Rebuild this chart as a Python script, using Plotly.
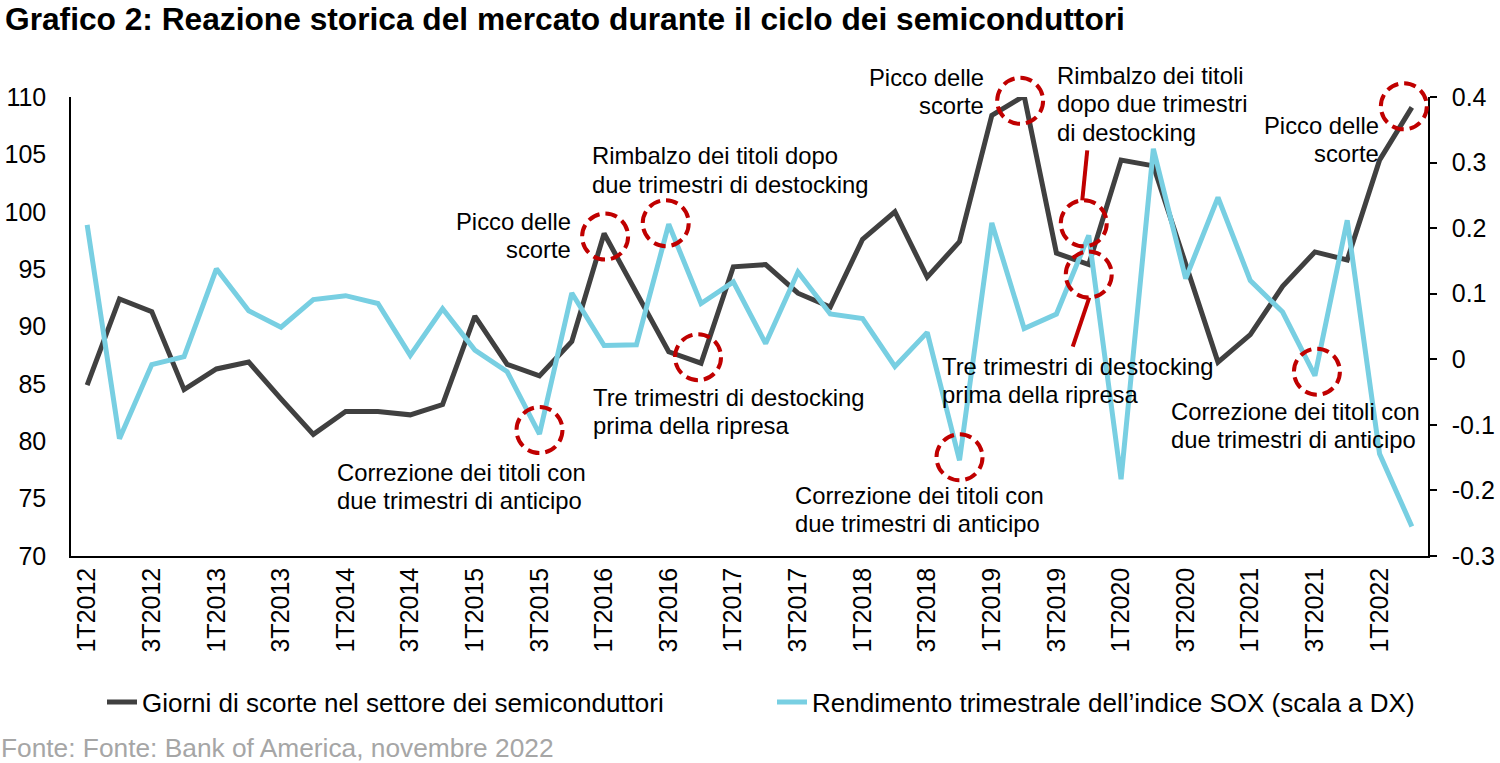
import plotly.graph_objects as go

# ---------------- data ----------------
years = list(range(2012, 2023))
quarters = [f"{q}T{y}" for y in years for q in (1, 2, 3, 4)][:42]   # 1T2012 .. 2T2022

inventory_days = [84.9, 92.4, 91.3, 84.5, 86.3, 86.9, 83.7, 80.6, 82.6, 82.6,
                  82.3, 83.2, 90.9, 86.7, 85.7, 88.7, 98.1, 93.0, 87.8, 86.8,
                  95.2, 95.4, 92.9, 91.7, 97.6, 100.0, 94.3, 97.4, 108.4, 110.1,
                  96.4, 95.4, 104.5, 104.0, 95.3, 86.9, 89.3, 93.5, 96.5, 95.8,
                  104.5, 109.1]

sox_return = [0.205, -0.121, -0.008, 0.004, 0.138, 0.074, 0.049, 0.091, 0.097, 0.085,
              0.006, 0.077, 0.014, -0.019, -0.114, 0.101, 0.021, 0.022, 0.206, 0.085,
              0.118, 0.024, 0.133, 0.069, 0.062, -0.011, 0.041, -0.154, 0.208, 0.047,
              0.069, 0.189, -0.183, 0.321, 0.123, 0.247, 0.120, 0.072, -0.025, 0.212,
              -0.144, -0.255]

x_tick_labels = quarters[::2]
left_range = [70, 110]
left_ticks = [70, 75, 80, 85, 90, 95, 100, 105, 110]
right_range = [-0.3, 0.4]
right_ticks = [-0.3, -0.2, -0.1, 0, 0.1, 0.2, 0.3, 0.4]
right_tick_text = ["-0.3", "-0.2", "-0.1", "0", "0.1", "0.2", "0.3", "0.4"]

series_names = ["Giorni di scorte nel settore dei semiconduttori",
                "Rendimento trimestrale dell\u2019indice SOX (scala a DX)"]

title_text = "Grafico 2: Reazione storica del mercato durante il ciclo dei semiconduttori"
source_text = "Fonte: Fonte: Bank of America, novembre 2022"

# highlighted points: (series, quarter index, pixel dx, pixel dy)
highlights = [("sox", 14, 0, 4), ("inv", 16, 1, -3), ("sox", 18, -3, 1),
              ("inv", 19, -3, 6), ("sox", 27, 0, 3), ("inv", 29, -4, -5),
              ("sox", 31, -5, 12), ("inv", 31, 0, -10), ("sox", 38, 2, 4),
              ("inv", 41, -8, 1)]

# connector lines: (series, quarter index, x0, y0, x1, y1) pixel offsets
connectors = [("sox", 31, -1.5, 85, -6.5, 35), ("inv", 31, 0.5, -33, -16, -82)]

notes = [
    (["Picco delle", "scorte"], 572, 221, "right"),
    (["Rimbalzo dei titoli dopo", "due trimestri di destocking"], 591, 156, "left"),
    (["Tre trimestri di destocking", "prima della ripresa"], 592, 397, "left"),
    (["Correzione dei titoli con", "due trimestri di anticipo"], 336, 472, "left"),
    (["Picco delle", "scorte"], 985, 77, "right"),
    (["Correzione dei titoli con", "due trimestri di anticipo"], 794, 495, "left"),
    (["Tre trimestri di destocking", "prima della ripresa"], 941, 366, "left"),
    (["Rimbalzo dei titoli", "dopo due trimestri", "di destocking"], 1056, 75, "left"),
    (["Picco delle", "scorte"], 1380, 125, "right"),
    (["Correzione dei titoli con", "due trimestri di anticipo"], 1170, 411, "left"),
]

# ---------------- styling ----------------
FONT = "Liberation Sans, Arial, sans-serif"
DARK = "#404040"
CYAN = "#78CFE2"
RED = "#C00000"
W, H = 1500, 763
L, R, T, B = 71, 72, 97, 207
PW, PH = W - L - R, H - T - B
N = len(quarters)

def px_x(p):
    return (p - L) / PW

def px_y(p):
    return (T + PH - p) / PH

def paper_point(series, i):
    if series == "inv":
        v, rng = inventory_days[i], left_range
    else:
        v, rng = sox_return[i], right_range
    return (i + 0.5) / N, (v - rng[0]) / (rng[1] - rng[0])

fig = go.Figure()
fig.add_trace(go.Scatter(x=quarters, y=inventory_days, mode="lines",
                         name=series_names[0], legend="legend",
                         line=dict(color=DARK, width=5)))
fig.add_trace(go.Scatter(x=quarters, y=sox_return, mode="lines",
                         name=series_names[1], yaxis="y2", legend="legend2",
                         line=dict(color=CYAN, width=5)))

shapes = []
for series, i, dx, dy in highlights:
    ax, ay = paper_point(series, i)
    r = 23
    shapes.append(dict(type="circle", xref="paper", yref="paper",
                       xsizemode="pixel", ysizemode="pixel",
                       xanchor=ax, yanchor=ay,
                       x0=dx - r, x1=dx + r, y0=dy - r, y1=dy + r,
                       line=dict(color=RED, width=4, dash="12px,6px")))

for series, i, x0, y0, x1, y1 in connectors:
    ax, ay = paper_point(series, i)
    shapes.append(dict(type="line", xref="paper", yref="paper",
                       xsizemode="pixel", ysizemode="pixel",
                       xanchor=ax, yanchor=ay, x0=x0, y0=y0, x1=x1, y1=y1,
                       line=dict(color=RED, width=4)))

annotations = []
LINE_STEP = 28.5
for lines, x, y0, align in notes:
    for k, txt in enumerate(lines):
        annotations.append(dict(text=txt, xref="paper", yref="paper",
                                x=px_x(x), y=px_y(y0 + k * LINE_STEP),
                                xanchor=align, yanchor="middle",
                                showarrow=False, borderpad=0,
                                font=dict(family=FONT, size=23.8, color="black")))

annotations.append(dict(text="<b>" + title_text + "</b>",
                        xref="paper", yref="paper", x=px_x(4), y=px_y(19),
                        xanchor="left", yanchor="middle", showarrow=False,
                        borderpad=0,
                        font=dict(family=FONT, size=31.7, color="black")))

annotations.append(dict(text=source_text,
                        xref="paper", yref="paper", x=px_x(0), y=px_y(748),
                        xanchor="left", yanchor="middle", showarrow=False,
                        borderpad=0,
                        font=dict(family=FONT, size=26.3, color="#A6A6A6")))

legend_common = dict(orientation="h", xanchor="left", yanchor="middle",
                     y=px_y(702), font=dict(family=FONT, size=26, color="black"),
                     bgcolor="rgba(0,0,0,0)", borderwidth=0)

fig.update_layout(
    width=W, height=H, autosize=False,
    margin=dict(l=L, r=R, t=T, b=B, autoexpand=False),
    paper_bgcolor="white", plot_bgcolor="white",
    font=dict(family=FONT, color="black"),
    showlegend=True,
    legend=dict(x=px_x(102), **legend_common),
    legend2=dict(x=px_x(772), **legend_common),
    xaxis=dict(type="category", categoryorder="array", categoryarray=quarters,
               range=[-0.5, N - 0.5],
               tickmode="array", tickvals=x_tick_labels, ticktext=x_tick_labels,
               tickangle=-90, tickfont=dict(family=FONT, size=25, color="black"),
               showline=True, linecolor="black", linewidth=1.5, automargin=False,
               ticks="", showgrid=False, zeroline=False, ticklabelstandoff=0),
    yaxis=dict(range=left_range, tickmode="array", tickvals=left_ticks,
               tickfont=dict(family=FONT, size=25, color="black"),
               showline=True, linecolor="black", linewidth=1.5, automargin=False,
               ticks="", showgrid=False, zeroline=False, ticklabelstandoff=18),
    yaxis2=dict(range=right_range, overlaying="y", side="right",
                tickmode="array", tickvals=right_ticks, ticktext=right_tick_text,
                tickfont=dict(family=FONT, size=25, color="black"),
                showline=True, linecolor="black", linewidth=1.5, automargin=False,
                ticks="outside", ticklen=7, tickcolor="black", tickwidth=1.5,
                showgrid=False, zeroline=False, ticklabelstandoff=10),
    shapes=shapes,
    annotations=annotations,
)

# remove the browser's default page margin so the figure sits at (0, 0)
fig.write_html("out.html", config={"displayModeBar": False},
               post_script="document.body.style.margin='0';document.body.style.padding='0';")
